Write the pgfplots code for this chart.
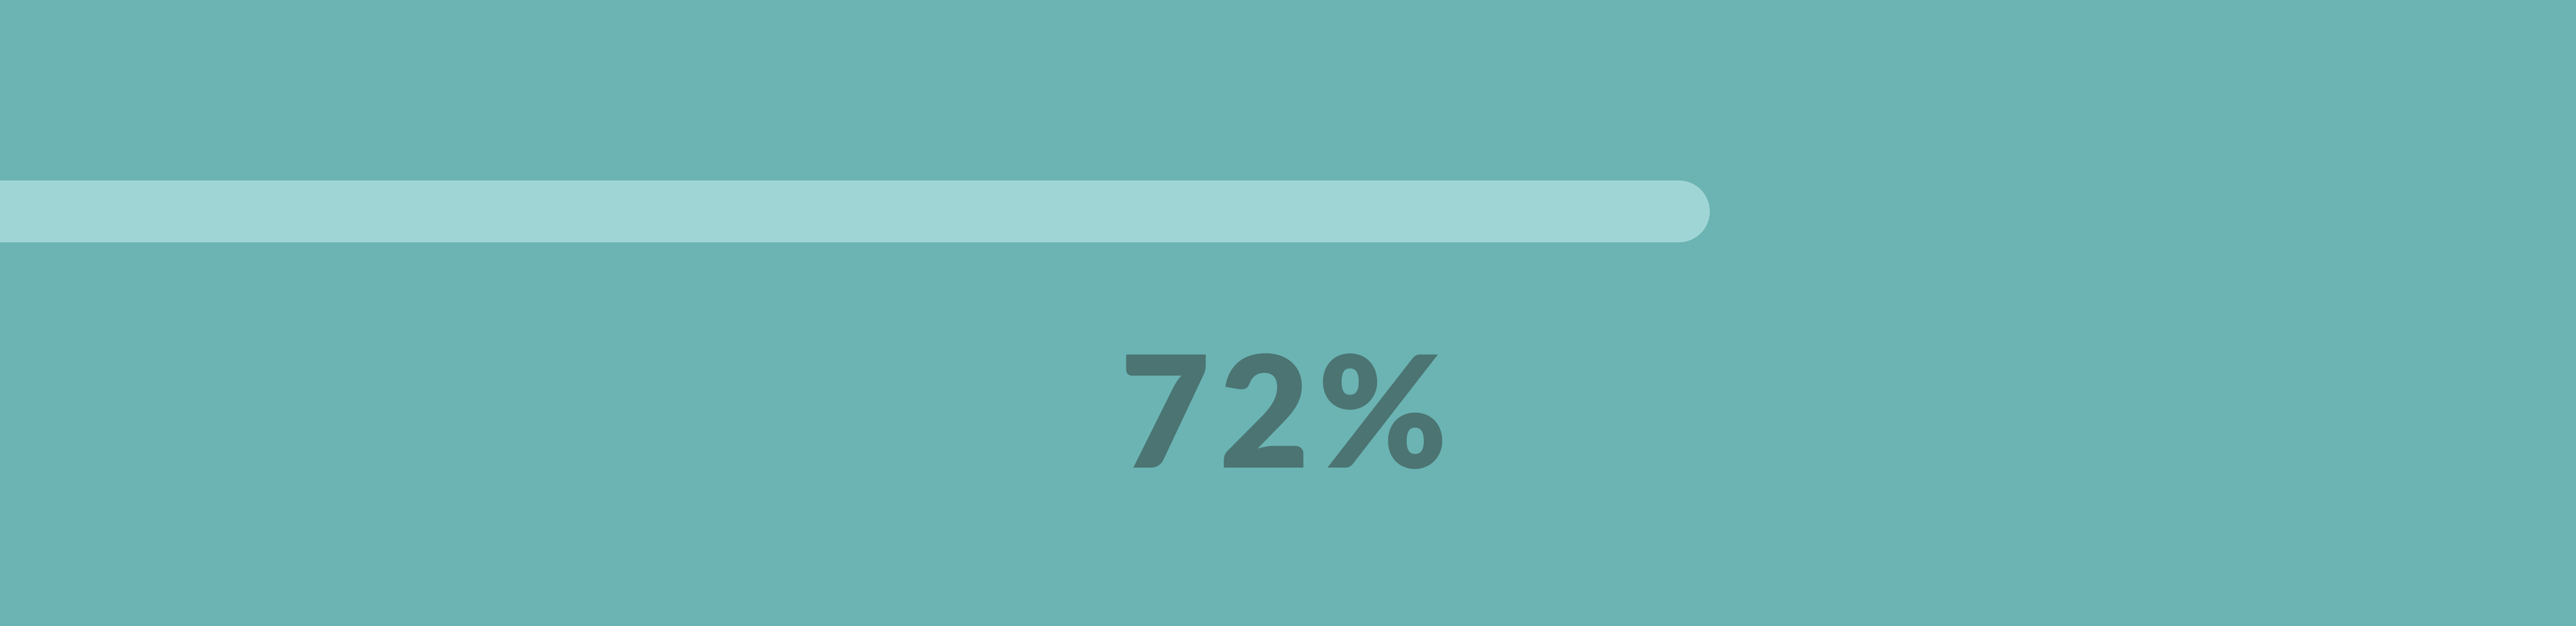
\documentclass[border=0pt]{standalone}
\usepackage{pgfplots}
\pgfplotsset{compat=1.18}
\usepackage{fontspec}
\setmainfont{Lato}
\newfontfamily\latoblack{Lato Black}
\definecolor{bg}{HTML}{6BB4B3}
\definecolor{barc}{HTML}{A0D5D6}
\definecolor{txt}{HTML}{4B7472}
\begin{document}
\begin{tikzpicture}
\begin{axis}[
  scale only axis,
  width=40.8cm, height=9.92cm,
  xmin=0, xmax=110.48,
  ymin=0, ymax=992,
  axis line style={draw=none},
  ticks=none,
  axis background/.style={fill=bg},
]
\addplot[draw=barc, line width=0.98cm, line cap=round] coordinates {(-10,657) (72,657)};
\node[anchor=base, text=txt, font=\latoblack\fontsize{70}{80}\selectfont, inner sep=0pt] at (axis cs:55.08,250) {7\kern4pt2\kern4pt\%};
\end{axis}
\end{tikzpicture}
\end{document}
